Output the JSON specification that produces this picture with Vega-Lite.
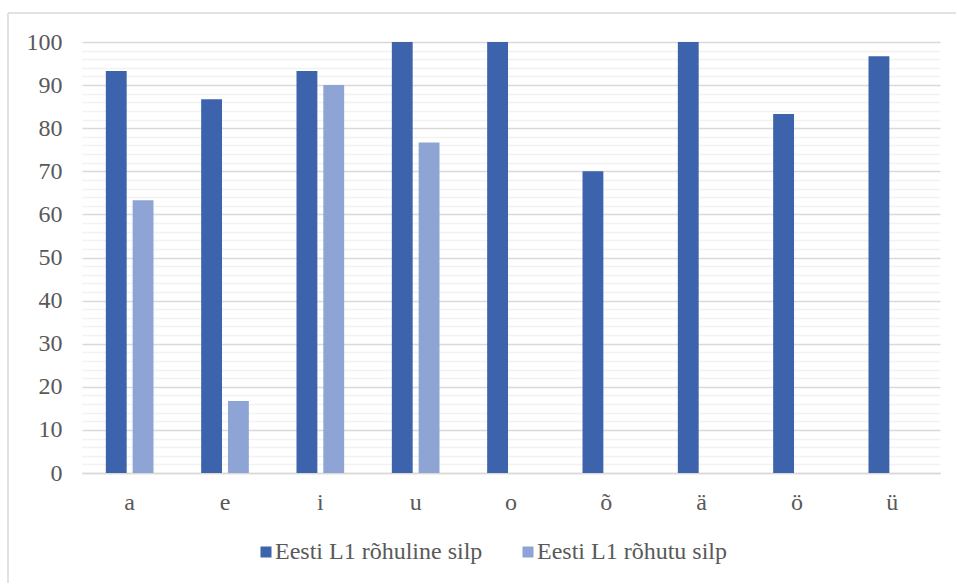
{
  "$schema": "https://vega.github.io/schema/vega-lite/v6.json",
  "width": 948,
  "height": 570,
  "autosize": {"type": "none"},
  "padding": {"left": 8, "top": 13, "right": 1, "bottom": 1},
  "background": "white",
  "data": {
    "values": [
      {"vokaal": "a", "silp": "Eesti L1 rõhuline silp", "protsent": 93.3},
      {"vokaal": "a", "silp": "Eesti L1 rõhutu silp", "protsent": 63.3},
      {"vokaal": "e", "silp": "Eesti L1 rõhuline silp", "protsent": 86.7},
      {"vokaal": "e", "silp": "Eesti L1 rõhutu silp", "protsent": 16.7},
      {"vokaal": "i", "silp": "Eesti L1 rõhuline silp", "protsent": 93.3},
      {"vokaal": "i", "silp": "Eesti L1 rõhutu silp", "protsent": 90},
      {"vokaal": "u", "silp": "Eesti L1 rõhuline silp", "protsent": 100},
      {"vokaal": "u", "silp": "Eesti L1 rõhutu silp", "protsent": 76.7},
      {"vokaal": "o", "silp": "Eesti L1 rõhuline silp", "protsent": 100},
      {"vokaal": "o", "silp": "Eesti L1 rõhutu silp", "protsent": 0},
      {"vokaal": "õ", "silp": "Eesti L1 rõhuline silp", "protsent": 70},
      {"vokaal": "õ", "silp": "Eesti L1 rõhutu silp", "protsent": 0},
      {"vokaal": "ä", "silp": "Eesti L1 rõhuline silp", "protsent": 100},
      {"vokaal": "ä", "silp": "Eesti L1 rõhutu silp", "protsent": 0},
      {"vokaal": "ö", "silp": "Eesti L1 rõhuline silp", "protsent": 83.3},
      {"vokaal": "ö", "silp": "Eesti L1 rõhutu silp", "protsent": 0},
      {"vokaal": "ü", "silp": "Eesti L1 rõhuline silp", "protsent": 96.7},
      {"vokaal": "ü", "silp": "Eesti L1 rõhutu silp", "protsent": 0}
    ]
  },
  "mark": {"type": "bar"},
  "encoding": {
    "x": {
      "field": "vokaal",
      "type": "nominal",
      "sort": ["a", "e", "i", "u", "o", "õ", "ä", "ö", "ü"],
      "scale": {"range": [74, 932], "paddingInner": 0.5, "paddingOuter": 0.25},
      "axis": {
        "title": null,
        "labelAngle": 0,
        "labelPadding": 17,
        "offset": -110,
        "ticks": false,
        "domain": true,
        "domainColor": "#D9D9D9",
        "domainWidth": 1.5
      }
    },
    "xOffset": {
      "field": "silp",
      "type": "nominal",
      "sort": ["Eesti L1 rõhuline silp", "Eesti L1 rõhutu silp"],
      "scale": {"paddingInner": 0.222, "paddingOuter": 0}
    },
    "y": {
      "field": "protsent",
      "type": "quantitative",
      "scale": {"domain": [0, 100], "nice": false, "range": [460, 29]},
      "axis": {
        "title": null,
        "offset": -74,
        "values": [0, 2, 4, 6, 8, 10, 12, 14, 16, 18, 20, 22, 24, 26, 28, 30, 32, 34, 36, 38, 40, 42, 44, 46, 48, 50, 52, 54, 56, 58, 60, 62, 64, 66, 68, 70, 72, 74, 76, 78, 80, 82, 84, 86, 88, 90, 92, 94, 96, 98, 100],
        "labelExpr": "datum.value % 10 === 0 ? datum.label : ''",
        "labelPadding": 20,
        "ticks": false,
        "domain": false,
        "grid": true,
        "gridColor": {"condition": {"test": "datum.value % 10 === 0", "value": "#D9D9D9"}, "value": "#F2F2F2"},
        "gridWidth": 1.5
      }
    },
    "color": {
      "field": "silp",
      "type": "nominal",
      "sort": ["Eesti L1 rõhuline silp", "Eesti L1 rõhutu silp"],
      "scale": {"range": ["#3C63AC", "#8EA4D5"]},
      "legend": {
        "title": null,
        "orient": "none",
        "direction": "horizontal",
        "legendX": 246,
        "legendY": 527,
        "padding": 0,
        "symbolType": "square",
        "symbolSize": 121,
        "symbolStrokeWidth": 0,
        "labelOffset": -3,
        "columnPadding": 33,
        "labelLimit": 400
      }
    }
  },
  "config": {
    "view": {"stroke": "#D9D9D9", "strokeWidth": 1.5, "strokeDash": [948, 1518, 570, 0]},
    "font": "Liberation Serif",
    "axis": {"labelFont": "Liberation Serif", "labelFontSize": 24, "labelColor": "#595959"},
    "legend": {"labelFont": "Liberation Serif", "labelFontSize": 24, "labelColor": "#595959"}
  }
}
